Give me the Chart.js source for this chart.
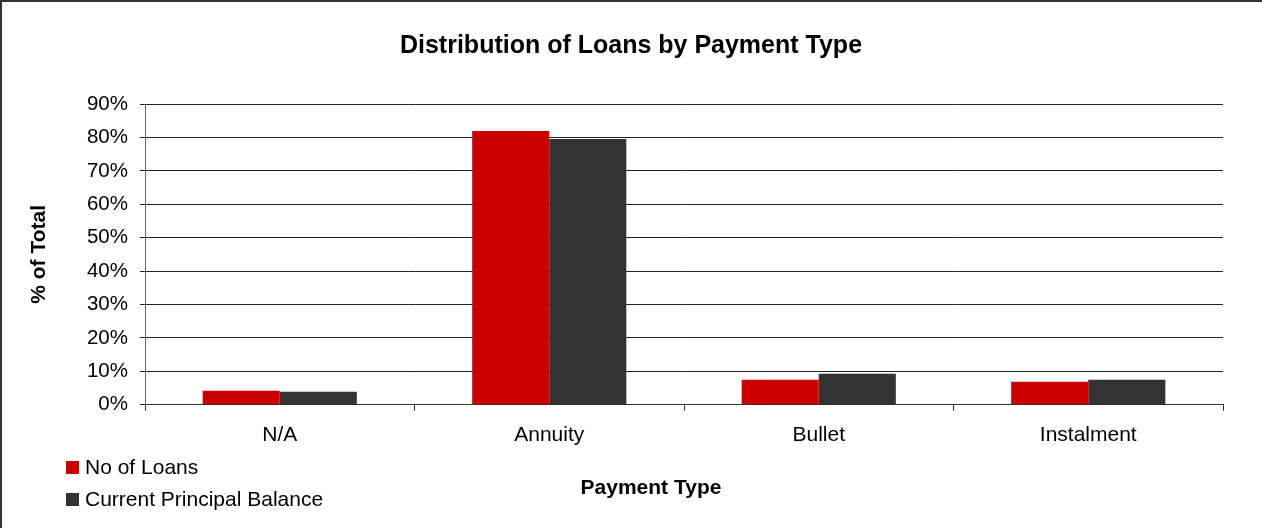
<!DOCTYPE html>
<html>
<head>
<meta charset="utf-8">
<script src="https://cdn.jsdelivr.net/npm/chart.js@4/dist/chart.umd.min.js"></script>
<style>
  html,body{margin:0;padding:0;background:#fff;}
  #wrap{position:relative;width:1262px;height:528px;overflow:hidden;}
  #frame{position:absolute;left:0;top:0;width:1300px;height:600px;border-left:2px solid #333;border-top:2px solid #333;box-sizing:border-box;pointer-events:none;}
  #c{position:absolute;left:0;top:0;}
  .leg{position:absolute;left:66px;font:21px "Liberation Sans",Arial,sans-serif;line-height:20px;color:#000;display:flex;align-items:center;}
  .sw{width:13px;height:13px;margin-right:6px;}
  #xt{position:absolute;left:451px;width:400px;top:475px;text-align:center;font:bold 21px "Liberation Sans",Arial,sans-serif;line-height:24px;color:#000;}
</style>
</head>
<body>
<div id="wrap">
  <canvas id="c" width="1262" height="528"></canvas>
  <div id="frame"></div>
  <div class="leg" style="top:457px"><span class="sw" style="background:#cc0000"></span><span id="l0"></span></div>
  <div class="leg" style="top:489px"><span class="sw" style="background:#333333"></span><span id="l1"></span></div>
  <div id="xt"></div>
</div>
<script>
const categories = ["N/A", "Annuity", "Bullet", "Instalment"];
const seriesNames = ["No of Loans", "Current Principal Balance"];
const noOfLoans = [4.2, 81.9, 7.5, 6.9];
const currentPrincipalBalance = [3.9, 79.5, 9.3, 7.5];
const seriesColors = ["#cc0000", "#333333"];
const xAxisTitle = "Payment Type";

document.getElementById('l0').textContent = seriesNames[0];
document.getElementById('l1').textContent = seriesNames[1];
document.getElementById('xt').textContent = xAxisTitle;

const FONT = '"Liberation Sans", Arial, sans-serif';

new Chart(document.getElementById('c'), {
  type: 'bar',
  data: {
    labels: categories,
    datasets: [
      {label: seriesNames[0], data: noOfLoans, backgroundColor: seriesColors[0], barPercentage: 1, categoryPercentage: 0.572},
      {label: seriesNames[1], data: currentPrincipalBalance, backgroundColor: seriesColors[1], barPercentage: 1, categoryPercentage: 0.572}
    ]
  },
  options: {
    responsive: false,
    animation: false,
    layout: {padding: {left: 0, right: 0, top: 0, bottom: 68}},
    plugins: {
      legend: {display: false},
      tooltip: {enabled: false},
      title: {
        display: true,
        text: 'Distribution of Loans by Payment Type',
        color: '#000',
        font: {family: FONT, size: 25, weight: 'bold'},
        padding: {top: 31, bottom: 43}
      }
    },
    scales: {
      x: {
        grid: {display: true, drawOnChartArea: false, drawTicks: true, tickLength: 6, color: '#333', offset: true},
        border: {display: true, color: '#333', width: 1},
        ticks: {color: '#000', font: {family: FONT, size: 21}, padding: 12},
        title: {display: false}
      },
      y: {
        min: 0, max: 90,
        afterFit: (s) => { s.width = 145; },
        grid: {color: '#222', lineWidth: 1, tickLength: 5, drawTicks: true},
        border: {display: true, color: '#666', width: 1},
        ticks: {stepSize: 10, color: '#000', font: {family: FONT, size: 20.5}, padding: 12, callback: v => v + '%'},
        title: {display: true, text: '% of Total', color: '#000', font: {family: FONT, size: 21, weight: 'bold'}, padding: {top: 27, bottom: 0}}
      },
      yRight: {
        position: 'right',
        min: 0, max: 90,
        afterFit: (s) => { s.width = 39; },
        grid: {display: false, drawOnChartArea: false},
        border: {display: false},
        ticks: {display: false}
      }
    }
  }
});
</script>
</body>
</html>
